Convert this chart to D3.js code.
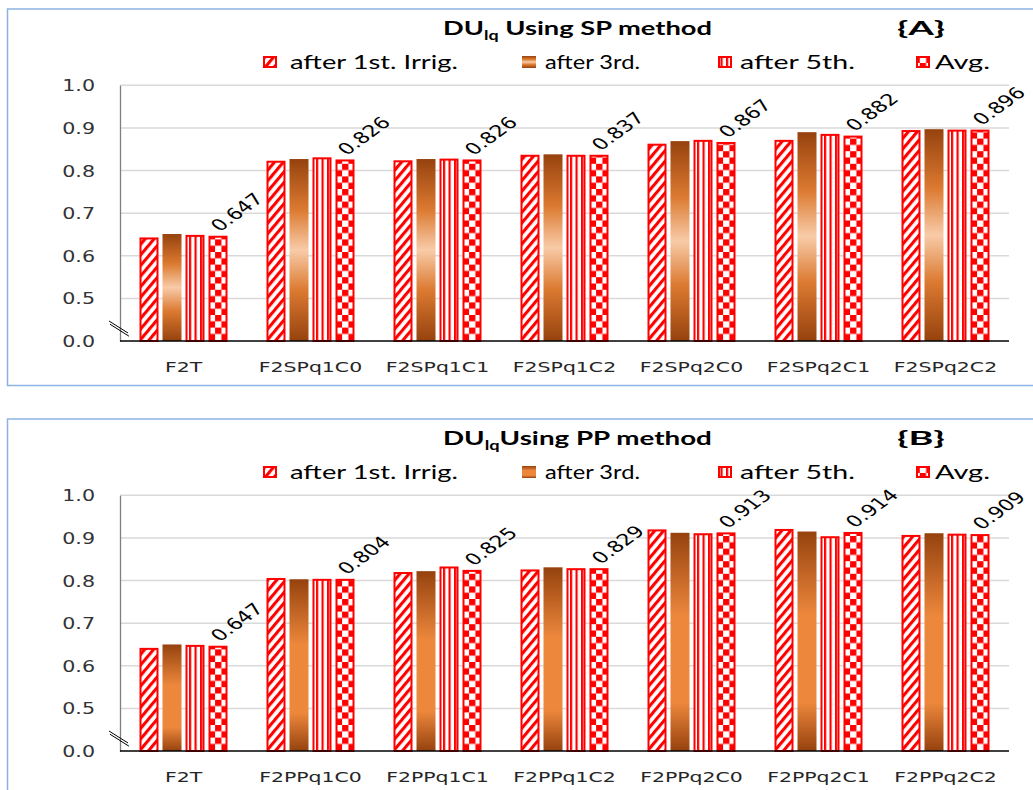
<!DOCTYPE html>
<html><head><meta charset="utf-8">
<script src="https://cdn.jsdelivr.net/npm/d3@7"></script>
<style>body{margin:0;background:#fff}svg{display:block}</style>
</head><body>
<svg id="c" width="1033" height="790"></svg>
<script>
// ---------------- data ----------------
const seriesNames = ["after 1st. Irrig.", "after 3rd.", "after 5th.", "Avg."];
const tickValues = [0.4, 0.5, 0.6, 0.7, 0.8, 0.9, 1.0];   // 0.4 position carries the broken-axis "0.0" label
const tickLabels = ["0.0", "0.5", "0.6", "0.7", "0.8", "0.9", "1.0"];

const categoriesA = ["F2T", "F2SPq1C0", "F2SPq1C1", "F2SPq1C2", "F2SPq2C0", "F2SPq2C1", "F2SPq2C2"];
const firstA = [0.643, 0.823, 0.824, 0.837, 0.863, 0.872, 0.895];
const thirdA = [0.651, 0.827, 0.827, 0.838, 0.869, 0.890, 0.897];
const fifthA = [0.649, 0.831, 0.828, 0.837, 0.872, 0.886, 0.896];
const avgA   = [0.647, 0.826, 0.826, 0.837, 0.867, 0.882, 0.896];

const categoriesB = ["F2T", "F2PPq1C0", "F2PPq1C1", "F2PPq1C2", "F2PPq2C0", "F2PPq2C1", "F2PPq2C2"];
const firstB = [0.642, 0.806, 0.820, 0.826, 0.920, 0.921, 0.907];
const thirdB = [0.650, 0.803, 0.822, 0.831, 0.912, 0.915, 0.911];
const fifthB = [0.649, 0.804, 0.833, 0.829, 0.911, 0.904, 0.910];
const avgB   = [0.647, 0.804, 0.825, 0.829, 0.913, 0.914, 0.909];

const titleMainA = "Using SP method", tagA = "{A}";
const titleMainB = "Using PP method", tagB = "{B}";

// ---------------- drawing ----------------
const svg = d3.select("#c");
const defs = svg.append("defs");
const RED = "#ff0000";

// diagonal stripes
const pd = defs.append("pattern").attr("id", "diag").attr("patternUnits", "userSpaceOnUse")
  .attr("width", 6.8).attr("height", 10).attr("patternTransform", "rotate(40)");
pd.append("rect").attr("width", 6.8).attr("height", 10).attr("fill", "#fff");
pd.append("rect").attr("width", 3.1).attr("height", 10).attr("fill", RED);
// vertical stripes
const pv = defs.append("pattern").attr("id", "vstr").attr("patternUnits", "userSpaceOnUse")
  .attr("width", 5.5).attr("height", 10);
pv.append("rect").attr("width", 5.5).attr("height", 10).attr("fill", "#fff");
pv.append("rect").attr("x", 0).attr("width", 2.2).attr("height", 10).attr("fill", RED);
// checker
const pc = defs.append("pattern").attr("id", "chk").attr("patternUnits", "userSpaceOnUse")
  .attr("width", 12.6).attr("height", 12.6);
pc.append("rect").attr("width", 12.6).attr("height", 12.6).attr("fill", "#fff");
pc.append("rect").attr("width", 6.3).attr("height", 6.3).attr("fill", RED);
pc.append("rect").attr("x", 6.3).attr("y", 6.3).attr("width", 6.3).attr("height", 6.3).attr("fill", RED);
// gradients
function grad(id, stops) {
  const g = defs.append("linearGradient").attr("id", id).attr("x1", 0).attr("y1", 0).attr("x2", 0).attr("y2", 1);
  stops.forEach(s => g.append("stop").attr("offset", s[0]).attr("stop-color", s[1]));
}
grad("gradA", [[0, "#96420e"], [0.28, "#dc7a31"], [0.5, "#f8cba8"], [0.72, "#dc7a31"], [1, "#96420e"]]);
grad("gradB", [[0, "#96420e"], [0.38, "#ec873c"], [0.78, "#ec873c"], [1, "#96420e"]]);

function fitText(parent, x, y, w, build, anchor) {
  const g = parent.append("g");
  const t = g.append("text").attr("text-anchor", anchor || "start");
  build(t);
  const bw = t.node().getComputedTextLength();
  g.attr("transform", `translate(${x},${y}) scale(${w / bw},1)`);
  return t;
}

function drawPanel(cfg) {
  const p = svg.append("g").attr("transform", `translate(0,${cfg.oy})`);
  // frame
  p.append("rect").attr("x", 7.5).attr("y", 9).attr("width", 1040).attr("height", cfg.frameH)
    .attr("fill", "#fff").attr("stroke", "#8db3e2").attr("stroke-width", 1.5);

  const x = d3.scaleBand().domain(cfg.categories).range([120, 1009]);
  const xs = d3.scaleBand().domain(d3.range(4)).range([0, 88]).paddingInner(0.174);
  const y = d3.scaleLinear().domain([0.4, 1.0]).range([341, 85.3]);
  const series = [cfg.first, cfg.third, cfg.fifth, cfg.avg];
  const fills = ["url(#diag)", `url(#${cfg.grad})`, "url(#vstr)", "url(#chk)"];

  // grid
  p.append("g").selectAll("line").data(tickValues.filter(v => v > 0.4)).join("line")
    .attr("x1", 120).attr("x2", 1009).attr("y1", d => y(d)).attr("y2", d => y(d))
    .attr("stroke", "#d9d9d9").attr("stroke-width", 1.5);

  // y axis
  const ya = p.append("g").attr("transform", "translate(120,0)")
    .call(d3.axisLeft(y).tickValues(tickValues).tickFormat((d, i) => tickLabels[i]).tickSize(0).tickPadding(0));
  ya.select(".domain").attr("stroke", "#7f7f7f").attr("stroke-width", 1.3);
  ya.selectAll("text").attr("x", -25 / 1.33).attr("dy", "0.36em").attr("transform", "scale(1.33,1)")
    .attr("font-family", "DejaVu Sans").attr("font-size", 15.5).attr("fill", "#333");

  // bars
  const groups = p.append("g").selectAll("g").data(cfg.categories).join("g")
    .attr("transform", c => `translate(${x(c) + (x.bandwidth() - 88) / 2},0)`);
  groups.each(function (c, ci) {
    const gg = d3.select(this);
    series.forEach((s, si) => {
      const v = s[ci];
      const r = gg.append("rect").attr("x", xs(si)).attr("y", y(v)).attr("width", xs.bandwidth())
        .attr("height", y(0.4) - y(v)).attr("fill", fills[si]);
      if (si !== 1) {
        r.attr("x", xs(si) + 1).attr("y", y(v) + 1).attr("width", xs.bandwidth() - 2).attr("height", y(0.4) - y(v) - 1)
          .attr("stroke", RED).attr("stroke-width", 2);
      }
    });
    // rotated value label (Avg)
    const va = cfg.avg[ci];
    const lx = xs(3) + xs.bandwidth() / 2 + 2, ly = y(va) - 3.5;
    gg.append("g").attr("transform", `translate(${lx},${ly}) scale(1.38,1) rotate(-45)`)
      .append("text").text(d3.format(".3f")(va))
      .attr("font-family", "DejaVu Sans").attr("font-size", 16).attr("fill", "#000");
  });

  // baseline
  p.append("line").attr("x1", 120).attr("x2", 1009).attr("y1", y(0.4)).attr("y2", y(0.4))
    .attr("stroke", "#000").attr("stroke-width", 1.5);

  // x axis labels
  const xa = p.append("g").attr("transform", `translate(0,${y(0.4)})`)
    .call(d3.axisBottom(x).tickSize(0).tickPadding(0));
  xa.select(".domain").remove();
  xa.selectAll("text").attr("y", 31).attr("dy", 0).attr("x", 0).attr("transform", "scale(1.43,1)")
    .attr("font-family", "DejaVu Sans").attr("font-size", 14.3).attr("fill", "#262626");

  // axis break mark
  const bk = p.append("g").attr("stroke", "#000").attr("stroke-width", 1);
  [0, 3.2].forEach(o => bk.append("line").attr("x1", 109 + o * 0.3).attr("y1", 321 + o).attr("x2", 128 + o * 0.3).attr("y2", 333 + o));

  // title
  fitText(p, 443, 35, 269, t => {
    t.attr("font-family", "Lato").attr("font-weight", 700).attr("font-size", 19).attr("fill", "#000");
    t.append("tspan").text("DU");
    t.append("tspan").text("lq").attr("font-size", 12.5).attr("dy", 5);
    t.append("tspan").text(cfg.titleSpace + cfg.title).attr("dy", -5);
  });
  fitText(p, 897, 35, 48, t => {
    t.attr("font-family", "Lato").attr("font-weight", 700).attr("font-size", 19).attr("fill", "#000").text(cfg.tag);
  });

  // legend
  const legX = [263, 522, 718, 916], legTextX = [290, 545, 740, 935], legW = [168, 95, 115, 55];
  seriesNames.forEach((n, i) => {
    const inset = i === 1 ? 0 : 1;
    const r = p.append("rect").attr("x", legX[i] + inset).attr("y", 56 + inset)
      .attr("width", 14 - 2 * inset).attr("height", 12 - 2 * inset).attr("fill", fills[i]);
    if (i !== 1) r.attr("stroke", RED).attr("stroke-width", 2);
    fitText(p, legTextX[i], 68.5, legW[i], t => {
      t.attr("font-family", "Lato").attr("font-size", 19).attr("fill", "#000").text(n);
    });
  });
}

drawPanel({ oy: 0, frameH: 376.5, categories: categoriesA, first: firstA, third: thirdA, fifth: fifthA, avg: avgA,
  grad: "gradA", title: titleMainA, titleSpace: " ", tag: tagA });
drawPanel({ oy: 410, frameH: 420, categories: categoriesB, first: firstB, third: thirdB, fifth: fifthB, avg: avgB,
  grad: "gradB", title: titleMainB, titleSpace: "", tag: tagB });
</script>
</body></html>
